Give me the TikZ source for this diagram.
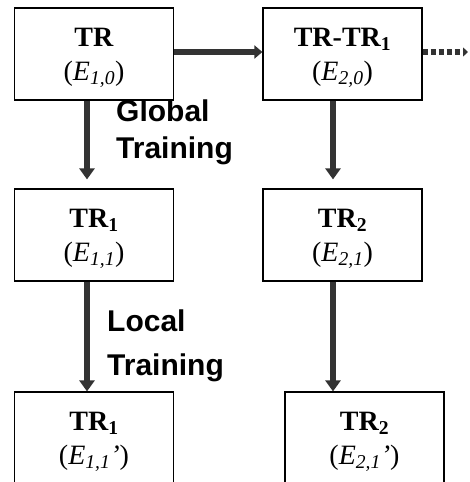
\documentclass[tikz,border=0pt]{standalone}
\usepackage{fontspec}
\setmainfont{Liberation Serif}
\newfontfamily\labelfont{Liberation Sans}
\usetikzlibrary{arrows.meta}
\definecolor{flowgray}{HTML}{333333}
\tikzset{
  stage/.style={draw=black, line width=1.2pt, minimum width=159pt, minimum height=92pt,
    inner sep=0pt},
  stagetext/.style={inner sep=0pt, align=center, font=\fontsize{28}{34}\selectfont},
  flow/.style={draw=flowgray, line width=5.5pt, -{Triangle[length=11pt,width=15pt]}},
  hflow/.style={draw=flowgray, line width=5.5pt, -{Triangle[length=8pt,width=13pt]}},
  nextflow/.style={draw=flowgray, line width=5.5pt, dash pattern=on 5pt off 3pt,
    -{Triangle[length=5pt,width=9pt]}},
  phase/.style={anchor=base west, inner sep=0pt, font=\labelfont\bfseries\fontsize{30}{36}\selectfont}
}
% a stage: framed box plus its two-line caption, set slightly below the centre
\newcommand\stagebox[3]{%
  \node[stage] (#1) at (#2) {};
  \node[stagetext] (#1-txt) at ([yshift=-4pt]#1.center) {#3};
}
\begin{document}
\begin{tikzpicture}[x=1pt,y=-1pt]
\useasboundingbox (0,0) rectangle (469,482);
\clip (0,0) rectangle (469,482);

% stage boxes
\stagebox{tr}{94,54}{\textbf{TR}\\(\textit{E\textsubscript{1,0}})}
\stagebox{trtr}{342.5,54}{\textbf{TR-TR\textsubscript{1}}\\(\textit{E\textsubscript{2,0}})}
\stagebox{tr1}{94,235}{\textbf{TR\textsubscript{1}}\\(\textit{E\textsubscript{1,1}})}
\stagebox{tr2}{342.5,235}{\textbf{TR\textsubscript{2}}\\(\textit{E\textsubscript{2,1}})}
\stagebox{tr1l}{94,438}{\textbf{TR\textsubscript{1}}\\(\textit{E\textsubscript{1,1}’})}
\stagebox{tr2l}{364.5,438}{\textbf{TR\textsubscript{2}}\\(\textit{E\textsubscript{2,1}’})}

\coordinate (more) at (468,52);

% training arrows
\draw[hflow] ([yshift=2pt]tr.east) -- ([yshift=2pt]trtr.west);
\draw[nextflow] ([yshift=2pt]trtr.east) -- (more);
\draw[flow] ([xshift=-7pt]tr.south) -- ([xshift=-7pt,yshift=9pt]tr1.north);
\draw[flow] ([xshift=-9.5pt]trtr.south) -- ([xshift=-9.5pt,yshift=9pt]tr2.north);
\draw[flow] ([xshift=-7pt]tr1.south) -- ([xshift=-7pt]tr1l.north);
\draw[flow] ([xshift=-9.5pt]tr2.south) -- ([xshift=-31.5pt]tr2l.north);

% phase labels
\node[phase] (glob)  at (116,121) {Global};
\node[phase] (globt) at (116,158) {Training};
\node[phase] (loc)   at (107,331) {Local};
\node[phase] (loct)  at (107,375) {Training};
\end{tikzpicture}
\end{document}
